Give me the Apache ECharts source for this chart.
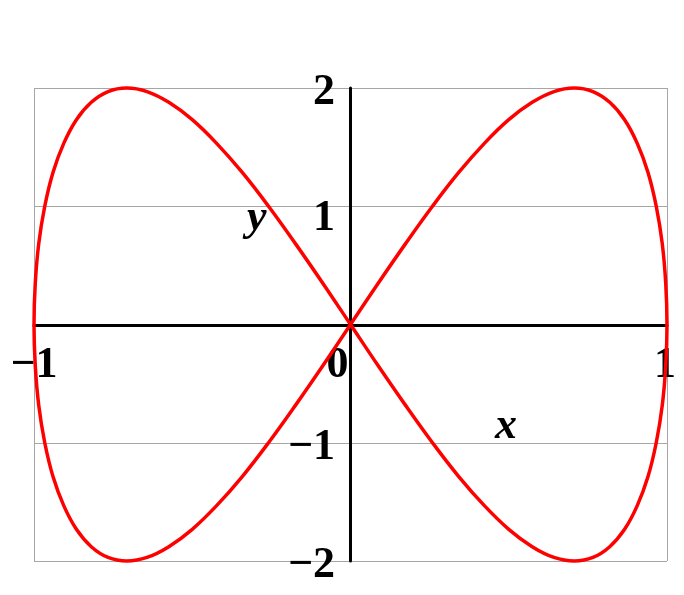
<!DOCTYPE html>
<html>
<head>
<meta charset="utf-8">
<script src="https://cdn.jsdelivr.net/npm/echarts@6/dist/echarts.min.js"></script>
<style>html,body{margin:0;padding:0;background:#fff}#c{width:684px;height:595px}</style>
</head>
<body>
<div id="c"></div>
<script>
// Curve points (closed figure-eight, traced once)
var xs = [0, 0.087, 0.174, 0.259, 0.342, 0.423, 0.5, 0.574, 0.643, 0.707, 0.766, 0.819, 0.866, 0.906, 0.940, 0.966, 0.985, 0.996, 1,
  0.996, 0.985, 0.966, 0.940, 0.906, 0.866, 0.819, 0.766, 0.707, 0.643, 0.574, 0.5, 0.423, 0.342, 0.259, 0.174, 0.087, 0,
  -0.087, -0.174, -0.259, -0.342, -0.423, -0.5, -0.574, -0.643, -0.707, -0.766, -0.819, -0.866, -0.906, -0.940, -0.966, -0.985, -0.996, -1,
  -0.996, -0.985, -0.966, -0.940, -0.906, -0.866, -0.819, -0.766, -0.707, -0.643, -0.574, -0.5, -0.423, -0.342, -0.259, -0.174, -0.087, 0];
var ys = [0, 0.347, 0.684, 1, 1.286, 1.532, 1.732, 1.879, 1.970, 2, 1.970, 1.879, 1.732, 1.532, 1.286, 1, 0.684, 0.347, 0,
  -0.347, -0.684, -1, -1.286, -1.532, -1.732, -1.879, -1.970, -2, -1.970, -1.879, -1.732, -1.532, -1.286, -1, -0.684, -0.347, 0,
  0.347, 0.684, 1, 1.286, 1.532, 1.732, 1.879, 1.970, 2, 1.970, 1.879, 1.732, 1.532, 1.286, 1, 0.684, 0.347, 0,
  -0.347, -0.684, -1, -1.286, -1.532, -1.732, -1.879, -1.970, -2, -1.970, -1.879, -1.732, -1.532, -1.286, -1, -0.684, -0.347, 0];
var xTicks = [-1, 0, 1];
var yTicks = [-2, -1, 0, 1, 2];
var xName = 'x', yName = 'y';

var pts = xs.map(function (x, i) { return [x, ys[i]]; });
var serif = "'Liberation Serif','Times New Roman',serif";
function lbl(v) { return v < 0 ? '\u2212' + Math.abs(v) : String(v); }
function rs(pad) { return {fontFamily: serif, fontWeight: 'bold', fontSize: 44, color: '#000', padding: pad}; }

var chart = echarts.init(document.getElementById('c'), null, {renderer: 'canvas'});
chart.setOption({
  animation: false,
  grid: {left: 34, right: 17, top: 88, bottom: 34, show: false, containLabel: false, outerBoundsMode: 'none'},
  xAxis: {
    type: 'value', min: xTicks[0], max: xTicks[xTicks.length - 1], interval: 1,
    position: 'bottom', offset: -236,
    axisLine: {onZero: false, lineStyle: {color: '#000', width: 3}},
    axisTick: {show: false},
    splitLine: {show: true, lineStyle: {color: '#a6a6a6', width: 1}},
    axisLabel: {
      margin: 19, color: '#000', fontFamily: serif, fontWeight: 'bold', fontSize: 44,
      formatter: function (v) { return v === 0 ? '{z|0}' : (v > 0 ? '{r|' + lbl(v) + '}' : lbl(v)); },
      rich: {z: rs([0, 26, 0, 0]), r: rs([0, 4, 0, 0])}
    }
  },
  yAxis: {
    type: 'value', min: yTicks[0], max: yTicks[yTicks.length - 1], interval: 1,
    position: 'left', offset: -316,
    axisLine: {onZero: false, lineStyle: {color: '#000', width: 3}},
    axisTick: {show: false},
    splitLine: {show: true, lineStyle: {color: '#a6a6a6', width: 1}},
    axisLabel: {
      margin: 15, color: '#000', fontFamily: serif, fontWeight: 'bold', fontSize: 44,
      formatter: function (v) { return v === 0 ? '' : (v === 1 ? '{o|1}' : '{n|' + lbl(v) + '}'); },
      rich: {n: rs([10, 0, 0, 0]), o: rs([24, 0, 0, 0])}
    }
  },
  graphic: [
    {type: 'text', left: 247, top: 197, style: {text: yName, font: "italic bold 44px 'Liberation Serif','Times New Roman',serif", fill: '#000'}},
    {type: 'text', left: 495, top: 405, style: {text: xName, font: "italic bold 44px 'Liberation Serif','Times New Roman',serif", fill: '#000'}}
  ],
  series: [{
    type: 'line', data: pts, showSymbol: false, smooth: 0.4,
    lineStyle: {color: '#ff0000', width: 3.5}, clip: false
  }]
});
</script>
</body>
</html>
